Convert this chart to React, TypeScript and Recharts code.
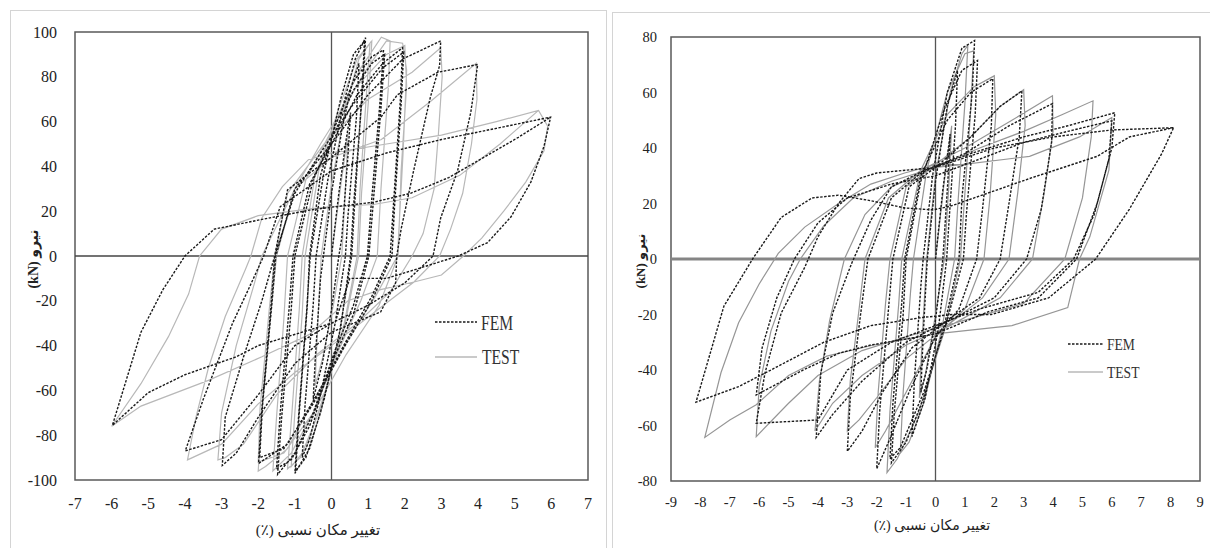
import { LineChart, Line, XAxis, YAxis, ReferenceLine, ReferenceArea } from 'recharts';

// drift (%) , force (kN) pairs traced along each loading path
const leftFem = [
  [0, 0], [0.2, 28], [0.4, 52], [0.52, 64], [0.45, 45], [0.28, 8], [0.2, 0], [0, -24], [-0.25, -48], [-0.5, -64], [-0.44, -45], [-0.3, -10], [-0.22, 0],
  [0, 28], [0.3, 58], [0.55, 76], [0.75, 86], [0.68, 62], [0.45, 18], [0.38, 0], [0.1, -30], [-0.3, -62], [-0.6, -82], [-0.8, -90], [-0.72, -66], [-0.5, -22], [-0.42, 0],
  [-0.1, 34], [0.3, 66], [0.65, 88], [0.93, 97.5], [0.84, 72], [0.6, 22], [0.52, 0], [0.25, -32], [-0.2, -64], [-0.6, -86], [-1.0, -97], [-0.9, -72], [-0.68, -25], [-0.58, 0],
  [-0.2, 38], [0.25, 70], [0.6, 90], [0.9, 96], [0.82, 70], [0.62, 20], [0.55, 0], [0.2, -36], [-0.3, -70], [-0.7, -90], [-0.98, -96], [-0.88, -70], [-0.66, -22], [-0.6, 0],
  [-0.3, 36], [0.1, 58], [0.6, 78], [1.1, 89], [1.42, 92], [1.32, 68], [1.08, 22], [0.98, 0], [0.6, -22], [0.1, -42], [-0.5, -70], [-1.0, -88], [-1.47, -97.5], [-1.36, -72], [-1.1, -24], [-1.0, 0],
  [-0.5, 34], [0, 52], [0.6, 74], [1.1, 86], [1.45, 90], [1.35, 66], [1.12, 20], [1.02, 0], [0.6, -26], [0, -48], [-0.6, -76], [-1.1, -91], [-1.5, -95], [-1.4, -70], [-1.15, -22], [-1.05, 0],
  [-0.6, 32], [0, 50], [0.7, 72], [1.4, 86], [1.94, 93], [1.88, 70], [1.7, 25], [1.6, 0], [1.1, -18], [0.4, -38], [-0.4, -62], [-1.2, -84], [-1.99, -92.6], [-1.9, -68], [-1.65, -22], [-1.55, 0],
  [-1.0, 28], [-0.3, 46], [0.6, 68], [1.4, 84], [1.97, 91], [1.9, 68], [1.72, 22], [1.65, 0], [1.1, -20], [0.3, -42], [-0.5, -66], [-1.3, -86], [-1.96, -90], [-1.88, -66], [-1.62, -20], [-1.52, 0],
  [-1.0, 30], [0, 50], [1.0, 72], [1.95, 88], [2.98, 96], [2.95, 85], [2.7, 71], [2.24, 38], [1.9, 12], [1.78, 0], [1.75, -12], [1.34, -25], [0, -34], [-1.0, -48], [-2.0, -72], [-2.6, -88], [-2.98, -93.5], [-2.9, -72], [-2.4, -45], [-1.9, -20], [-1.55, 0],
  [-1.2, 29.5], [-0.6, 37], [0, 44], [1.35, 62], [1.8, 72], [2.9, 82], [3.99, 85.5], [3.8, 64], [3.44, 38], [2.98, 17], [2.77, 0], [2.0, -12], [1.0, -22], [0, -30], [-1.0, -40], [-2.0, -62], [-3.0, -82], [-3.99, -87], [-3.5, -64], [-2.7, -30], [-2.27, -15], [-1.85, 0],
  [-1.4, 22], [0, 38], [1.5, 46], [3, 52], [4.5, 57], [5.98, 62], [5.8, 49], [5.44, 33], [4.9, 17.5], [4.26, 6], [3.46, 0], [2.1, -7], [1.5, -10], [0.5, -10], [0.1, -29.5], [-0.6, -33], [-2.0, -40], [-2.6, -45], [-4.0, -53], [-5.0, -61], [-5.98, -75.6], [-5.2, -34], [-4.6, -15], [-4.0, 0], [-3.2, 12], [-2.0, 16], [-0.6, 20.5], [0.1, 22], [1.15, 24], [2.16, 28], [3.2, 35], [5.1, 53], [5.98, 62],
];

const leftTest = [
  [0, 0], [0.2, 25], [0.45, 55], [0.38, 30], [0.28, 0], [0.05, -22], [-0.25, -46], [-0.45, -58], [-0.38, -32], [-0.28, 0],
  [0, 32], [0.4, 68], [0.75, 88], [1.05, 95], [0.96, 74], [0.78, 30], [0.7, 0], [0.35, -30], [-0.2, -62], [-0.7, -86], [-1.1, -94], [-1.0, -70], [-0.8, -26], [-0.72, 0],
  [-0.35, 38], [0.2, 66], [0.7, 88], [1.1, 96], [1.02, 72], [0.82, 28], [0.74, 0], [0.35, -32], [-0.3, -68], [-0.85, -90], [-1.2, -95], [-1.08, -70], [-0.88, -24], [-0.8, 0],
  [-0.45, 36], [0.1, 60], [0.8, 84], [1.36, 97.7], [1.6, 96], [1.55, 75], [1.35, 30], [1.25, 0], [0.8, -20], [0.2, -42], [-0.5, -70], [-1.1, -88], [-1.6, -96], [-1.5, -72], [-1.3, -28], [-1.2, 0],
  [-0.7, 34], [0, 56], [0.9, 82], [1.5, 96], [1.94, 95], [2.05, 83], [1.95, 45], [1.8, 0], [1.2, -18], [0.5, -36], [-0.4, -62], [-1.2, -86], [-1.8, -94], [-2.0, -96], [-1.9, -70], [-1.65, -25], [-1.5, 0],
  [-1.0, 30], [-0.3, 50], [0.7, 76], [1.5, 90], [2.0, 94], [2.05, 76], [1.9, 38], [1.82, 0], [1.3, -22], [0.4, -44], [-0.5, -70], [-1.3, -88], [-2.0, -92], [-1.95, -68], [-1.7, -24], [-1.55, 0],
  [-1.2, 28], [-0.2, 50], [1.0, 70], [2.2, 82], [2.98, 93], [3.02, 80], [2.92, 55], [2.8, 30], [2.5, 10], [2.2, 0], [1.6, -16], [0.7, -30], [-0.4, -44], [-1.5, -62], [-2.4, -84], [-2.9, -90], [-3.1, -91], [-3.0, -70], [-2.6, -40], [-2.1, -12], [-1.9, 0],
  [-1.0, 30], [0, 44], [1.36, 52], [2.7, 69], [3.95, 86], [3.97, 70], [3.82, 50], [3.58, 28], [3.25, 12], [2.95, 0], [2.25, -11.6], [1.34, -23], [0, -40], [-1.0, -52], [-2.0, -66], [-3.0, -84], [-3.93, -91], [-3.7, -72], [-3.36, -50], [-2.9, -27], [-2.35, -6], [-2.2, 0], [-1.9, 17], [-1.34, 31], [-0.63, 43], [0, 46],
  [1.5, 50], [3.0, 54], [4.5, 60], [5.65, 65], [5.9, 58], [5.8, 47], [5.3, 33], [4.7, 20], [4.1, 8], [3.6, 0], [3.0, -8.5], [2.25, -11.6], [1.34, -15], [0.45, -20], [-0.6, -35], [-1.9, -45], [-3.36, -55.5], [-5.2, -67], [-6.0, -76], [-5.2, -57], [-4.45, -36], [-3.9, -17], [-3.6, 0], [-3.0, 12], [-2.0, 18], [-0.6, 21], [0, 22], [1.15, 23], [2.2, 26], [3.5, 36], [4.6, 50], [5.65, 65],
];

const rightFem = [
  [0, 0], [0.25, 25], [0.5, 45], [0.42, 28], [0.25, 0], [0, -22], [-0.3, -40], [-0.5, -48], [-0.42, -28], [-0.28, 0],
  [0, 28], [0.4, 55], [0.75, 68], [0.68, 48], [0.45, 12], [0.38, 0], [0.1, -25], [-0.35, -50], [-0.8, -64], [-0.72, -44], [-0.5, -10], [-0.42, 0],
  [-0.1, 30], [0.4, 60], [0.9, 76], [1.33, 78.7], [1.25, 60], [0.9, 22], [0.8, 0], [0.3, -24], [-0.4, -50], [-1.0, -66], [-1.5, -73.5], [-1.4, -55], [-1.1, -20], [-1.0, 0],
  [-0.5, 28], [0.3, 54], [0.9, 68], [1.43, 71.5], [1.35, 52], [1.05, 16], [0.95, 0], [0.4, -22], [-0.4, -48], [-1.2, -68], [-1.55, -72], [-1.45, -52], [-1.15, -16], [-1.05, 0],
  [-0.5, 30], [0.4, 50], [1.2, 60], [1.95, 65], [1.9, 48], [1.6, 18], [1.4, 0], [0.8, -18], [0, -28], [-0.9, -48], [-1.6, -66], [-2.0, -75.6], [-1.9, -55], [-1.6, -18], [-1.45, 0],
  [-0.9, 26], [0, 33], [1.2, 44], [2.2, 55], [2.94, 60.6], [2.85, 44], [2.5, 20], [2.2, 0], [1.5, -14], [0.4, -22], [-0.8, -32], [-1.8, -48], [-2.5, -62], [-3.0, -69.3], [-2.9, -50], [-2.55, -20], [-2.3, 0],
  [-1.5, 22], [-0.5, 31], [1.0, 38], [2.5, 48], [3.98, 56], [3.95, 42], [3.6, 18], [3.1, 0], [2.0, -14], [0.5, -22], [-1.0, -30], [-2.5, -44], [-3.5, -56], [-4.06, -64.3], [-3.9, -41], [-3.5, -19.5], [-2.85, -1.5], [-2.2, 14], [-1.5, 26], [-0.37, 32],
  [1.2, 38], [3.0, 44], [4.5, 48], [6.1, 52.7], [6.0, 40], [5.5, 20], [4.8, 0], [3.5, -14], [1.8, -19], [0, -27], [-2.2, -31], [-3.3, -34], [-4.5, -40], [-6.1, -49], [-5.9, -32], [-5.4, -14], [-4.8, 0], [-4.0, 13], [-3.0, 22], [-1.5, 27], [0, 30],
  [1.5, 36], [3.0, 42], [4.5, 46], [6.0, 49.8], [5.9, 36], [5.4, 16], [4.7, 0], [3.5, -12], [1.5, -18], [0, -24], [-1.5, -30], [-3.0, -40], [-4.0, -58], [-6.1, -59.2], [-5.8, -41], [-5.25, -19.5], [-4.45, -3], [-4.0, 8], [-3.3, 20], [-2.6, 29], [-2.0, 31], [0, 33],
  [2.0, 40], [4.0, 44], [6.0, 46.5], [8.1, 47.3], [7.7, 38], [6.6, 18], [5.45, 0], [3.85, -14], [1.9, -20], [0.6, -20], [-0.4, -21], [-2.2, -24], [-3.8, -30], [-5.6, -40], [-6.7, -46], [-8.15, -51.6], [-7.2, -17], [-6.2, 0.4], [-5.25, 15], [-4.2, 22], [-3.3, 23], [-2.2, 21], [-1.05, 18.4], [-0.1, 17.7], [0.5, 19], [3.2, 29], [5.5, 37], [6.6, 44], [8.1, 47.3],
];

const rightTest = [
  [0, 0], [0.3, 28], [0.55, 48], [0.45, 26], [0.3, 0], [0, -20], [-0.35, -42], [-0.55, -50], [-0.45, -28], [-0.3, 0],
  [0, 30], [0.5, 60], [0.9, 74], [1.1, 77], [1.0, 56], [0.75, 18], [0.65, 0], [0.2, -26], [-0.4, -52], [-0.9, -66], [-1.2, -70], [-1.1, -48], [-0.85, -12], [-0.75, 0],
  [-0.3, 32], [0.4, 60], [1.0, 74], [1.3, 75], [1.2, 54], [0.95, 16], [0.85, 0], [0.3, -26], [-0.6, -56], [-1.3, -72], [-1.65, -77], [-1.55, -55], [-1.25, -16], [-1.15, 0],
  [-0.5, 32], [0.4, 52], [1.3, 62], [2.0, 66], [2.05, 52], [1.85, 22], [1.65, 0], [1.0, -18], [0, -28], [-1.0, -48], [-1.7, -62], [-2.05, -68], [-1.95, -48], [-1.7, -16], [-1.55, 0],
  [-1.0, 26], [0, 34], [1.2, 44], [2.2, 55], [3.0, 61], [3.05, 48], [2.8, 24], [2.5, 0], [1.6, -14], [0.4, -24], [-1.0, -36], [-2.0, -50], [-2.6, -58], [-3.0, -62], [-2.9, -44], [-2.6, -18], [-2.4, 0],
  [-1.6, 22], [-0.5, 32], [1.0, 40], [2.6, 50], [3.98, 58.8], [4.0, 46], [3.7, 24], [3.3, 0], [2.2, -14], [0.5, -24], [-1.0, -31], [-2.5, -42], [-3.5, -52], [-4.1, -62], [-3.95, -44], [-3.6, -22], [-3.1, 0], [-2.4, 16], [-1.5, 26], [0, 33],
  [1.5, 40], [3.0, 46], [4.3, 52], [5.36, 57], [5.3, 44], [5.0, 22], [4.4, 0], [3.0, -16], [1.0, -22], [-1.0, -28], [-2.5, -33], [-4.0, -42], [-5.0, -52], [-6.1, -64], [-6.0, -46], [-5.6, -26], [-5.0, -8], [-4.6, 0], [-3.8, 12], [-2.8, 22], [-1.5, 28], [0, 33],
  [0.9, 34], [3.2, 37], [4.9, 44], [6.0, 51], [5.9, 32], [5.25, 8], [4.9, 0], [4.5, -17.5], [2.6, -24], [0, -27], [-2.1, -31], [-3.7, -35], [-5.0, -42], [-6.1, -52.5], [-7.0, -58], [-7.85, -64.3], [-7.3, -41], [-6.7, -23], [-6.0, -9], [-5.35, 2], [-4.45, 11.5], [-3.3, 20], [-2.2, 27], [-1.05, 31], [0, 34], [0.9, 34], [3.2, 37], [4.9, 44], [6.0, 51],
];

const leftXTicks = [-7, -6, -5, -4, -3, -2, -1, 0, 1, 2, 3, 4, 5, 6, 7];
const leftYTicks = [-100, -80, -60, -40, -20, 0, 20, 40, 60, 80, 100];
const rightXTicks = [-9, -8, -7, -6, -5, -4, -3, -2, -1, 0, 1, 2, 3, 4, 5, 6, 7, 8, 9];
const rightYTicks = [-80, -60, -40, -20, 0, 20, 40, 60, 80];

const yTitle = 'نیرو (kN)';
const xTitle = 'تغییر مکان نسبی (٪)';

const serif = '"Liberation Serif", "Times New Roman", serif';
const toPoints = (path: number[][]) => path.map(([x, y]) => ({ x, y }));

// plain serif tick text, recharts' default tick kept falling back to sans
function makeTick(size: number, anchor: 'middle' | 'end', dy: string) {
  const SerifTick = (props: any) => {
    const { x, y, payload } = props;
    return (
      <text x={x} y={y} dy={dy} textAnchor={anchor} fontFamily={serif} fontSize={size} fill="#222">
        {payload.value}
      </text>
    );
  };
  return SerifTick;
}

interface PanelProps {
  fem: number[][];
  test: number[][];
  xTicks: number[];
  yTicks: number[];
  width: number;
  height: number;
  margin: { top: number; right: number; bottom: number; left: number };
  fontSize: number;
  yTickGap: number;
  xTickGap: number;
  zeroColor: string;
  zeroWidth: number;
  testColor: string;
}

function HysteresisPanel({ fem, test, xTicks, yTicks, width, height, margin, fontSize, yTickGap, xTickGap, zeroColor, zeroWidth, testColor }: PanelProps) {
  const xMin = xTicks[0];
  const xMax = xTicks[xTicks.length - 1];
  const yMin = yTicks[0];
  const yMax = yTicks[yTicks.length - 1];

  return (
    <LineChart width={width} height={height} data={toPoints(fem)} margin={margin}>
      <XAxis
        type="number"
        dataKey="x"
        domain={[xMin, xMax]}
        ticks={xTicks}
        allowDataOverflow
        axisLine={false}
        tickLine={false}
        tickMargin={xTickGap}
        height={30}
        tick={makeTick(fontSize, 'middle', '0.71em')}
        interval={0}
      />
      <YAxis
        type="number"
        dataKey="y"
        domain={[yMin, yMax]}
        ticks={yTicks}
        allowDataOverflow
        axisLine={false}
        tickLine={false}
        tickMargin={yTickGap}
        width={40}
        tick={makeTick(fontSize, 'end', '0.35em')}
        interval={0}
      />
      <ReferenceArea x1={xMin} x2={xMax} y1={yMin} y2={yMax} fill="none" stroke="#5a5a5a" strokeWidth={1.5} />
      <ReferenceLine x={0} stroke="#555" strokeWidth={1.3} />
      <ReferenceLine y={0} stroke={zeroColor} strokeWidth={zeroWidth} />
      <Line
        data={toPoints(test)}
        dataKey="y"
        type="linear"
        stroke={testColor}
        strokeWidth={1.2}
        dot={false}
        isAnimationActive={false}
      />
      <Line
        data={toPoints(fem)}
        dataKey="y"
        type="linear"
        stroke="#1a1a1a"
        strokeWidth={1.4}
        strokeDasharray="2.5 1.5"
        dot={false}
        isAnimationActive={false}
      />
    </LineChart>
  );
}

const titleFont = '"Liberation Serif", "DejaVu Sans", serif';

function Title({ text, cx, cy, rotate, size, bold }: { text: string; cx: number; cy: number; rotate?: boolean; size: number; bold?: boolean }) {
  return (
    <div
      dir="rtl"
      style={{
        position: 'absolute',
        left: cx,
        top: cy,
        transform: `translate(-50%, -50%)${rotate ? ' rotate(-90deg)' : ''}`,
        whiteSpace: 'nowrap',
        fontFamily: titleFont,
        fontSize: size,
        fontWeight: bold ? 'bold' : 'normal',
        color: '#222',
        lineHeight: 1,
      }}
    >
      {text}
    </div>
  );
}

export default function App() {
  return (
    <div style={{ position: 'absolute', left: 0, top: 0, width: 1210, height: 548, background: '#fff', overflow: 'hidden' }}>
      <div style={{ position: 'absolute', left: 10, top: 10, width: 595, height: 560, border: '1px solid #d4d4d4' }} />
      <div style={{ position: 'absolute', left: 612, top: 12, width: 620, height: 560, border: '1px solid #d4d4d4' }} />

      <div style={{ position: 'absolute', left: 0, top: 0 }}>
        <HysteresisPanel
          fem={leftFem}
          test={leftTest}
          xTicks={leftXTicks}
          yTicks={leftYTicks}
          width={605}
          height={548}
          margin={{ top: 32, right: 17, bottom: 38, left: 35 }}
          fontSize={16}
          yTickGap={12}
          xTickGap={12}
          zeroColor="#444"
          zeroWidth={1.5}
          testColor="#b8b8b8"
        />
      </div>
      <div style={{ position: 'absolute', left: 612, top: 0 }}>
        <HysteresisPanel
          fem={rightFem}
          test={rightTest}
          xTicks={rightXTicks}
          yTicks={rightYTicks}
          width={598}
          height={548}
          margin={{ top: 37, right: 10, bottom: 37, left: 19 }}
          fontSize={14.5}
          yTickGap={8}
          xTickGap={10}
          zeroColor="#858585"
          zeroWidth={3}
          testColor="#969696"
        />
      </div>

      <svg width={1210} height={548} style={{ position: 'absolute', left: 0, top: 0, pointerEvents: 'none' }}>
        <line x1={435} x2={477} y1={322} y2={322} stroke="#1a1a1a" strokeWidth={1.5} strokeDasharray="2.5 1.5" />
        <line x1={435} x2={477} y1={357} y2={357} stroke="#b8b8b8" strokeWidth={1.3} />
        <text transform="translate(481,330) scale(0.78,1)" fontSize={20} fontFamily={serif} fill="#333">FEM</text>
        <text transform="translate(482,364) scale(0.78,1)" fontSize={20} fontFamily={serif} fill="#333">TEST</text>

        <line x1={1068} x2={1103} y1={344} y2={344} stroke="#1a1a1a" strokeWidth={1.4} strokeDasharray="2.5 1.5" />
        <line x1={1068} x2={1103} y1={372} y2={372} stroke="#969696" strokeWidth={1.2} />
        <text transform="translate(1107,350) scale(0.8,1)" fontSize={17} fontFamily={serif} fill="#333">FEM</text>
        <text transform="translate(1107,378) scale(0.8,1)" fontSize={17} fontFamily={serif} fill="#333">TEST</text>
      </svg>

      <Title text={yTitle} cx={34} cy={259} rotate size={14} bold />
      <Title text={xTitle} cx={318} cy={530} size={15} />
      <Title text={yTitle} cx={640} cy={261} rotate size={13} bold />
      <Title text={xTitle} cx={932} cy={526} size={14} />
    </div>
  );
}
